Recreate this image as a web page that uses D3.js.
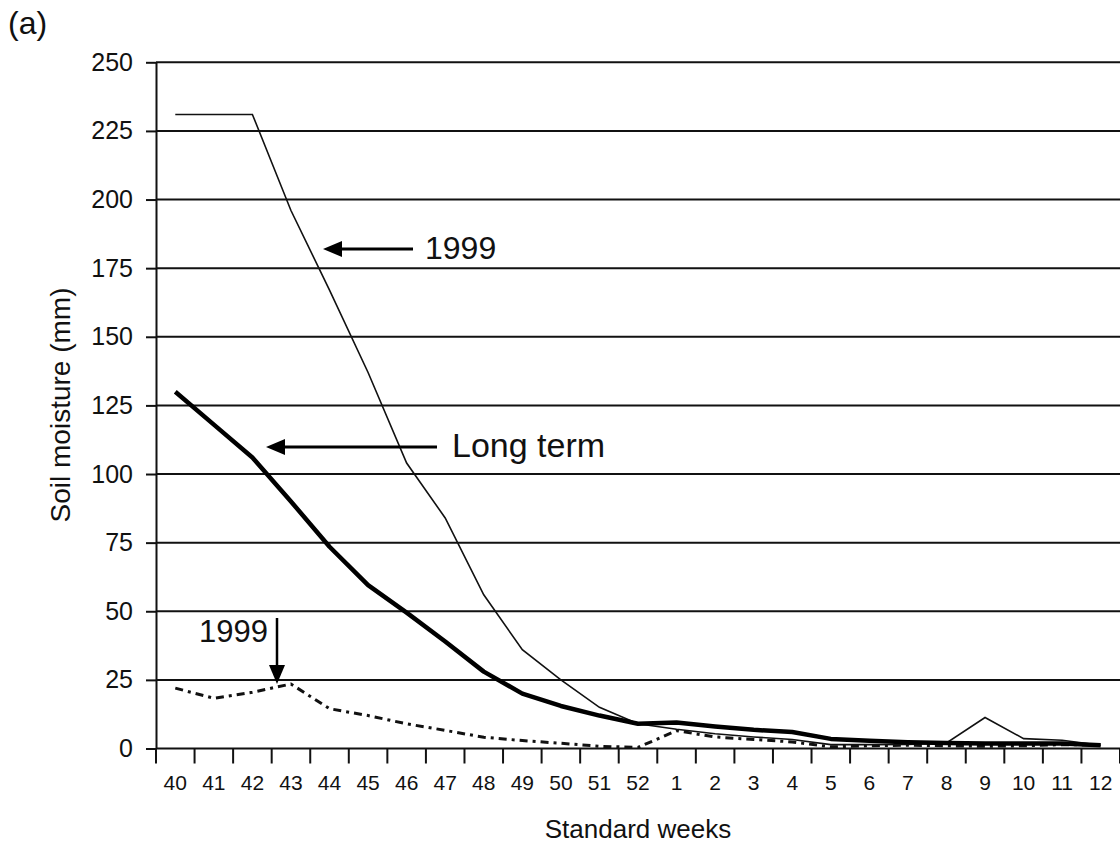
<!DOCTYPE html>
<html>
<head>
<meta charset="utf-8">
<script src="https://cdn.jsdelivr.net/npm/d3@7"></script>
<style>
  body { margin: 0; background: #fff; }
  svg { display: block; font-family: "Liberation Sans", Arial, sans-serif; }
</style>
</head>
<body>
<div id="chart"></div>
<script>
// standard weeks, Oct -> Mar
var weeks = ["40", "41", "42", "43", "44", "45", "46", "47", "48", "49", "50", "51", "52",
  "1", "2", "3", "4", "5", "6", "7", "8", "9", "10", "11", "12"];

// soil moisture (mm)
var longTerm = [130, 118, 106, 90, 73.5, 59.5, 49.5, 39, 28, 20, 15.5, 12, 9,
  9.5, 8, 6.8, 6, 3.5, 2.8, 2.3, 2, 1.8, 1.8, 1.8, 1.2];
var year1999 = [231, 231, 231, 196, 167, 137, 104, 84, 56, 36, 25, 15, 9,
  7, 5.4, 4.2, 3.3, 1.4, 1.4, 1.5, 2, 11.3, 3.6, 3, 1.2];
var year1999b = [22, 18.3, 20.5, 23.5, 14.5, 12, 9, 6.6, 4.1, 2.9, 1.9, 0.8, 0.4,
  6.5, 4.2, 3.3, 2.4, 0.6, 1, 1.2, 1, 0.8, 1, 1.4, 1.2];

var yTicks = [0, 25, 50, 75, 100, 125, 150, 175, 200, 225, 250];

var W = 1120, H = 845;
var plotLeft = 156, plotRight = 1120, plotTop = 62.3, plotBottom = 748.5;

var svg = d3.select("#chart").append("svg")
  .attr("width", W)
  .attr("height", H);

var x = d3.scaleBand().domain(weeks).range([plotLeft, plotRight]);
var y = d3.scaleLinear().domain([0, 250]).range([plotBottom, plotTop]);
var bw = x.bandwidth();

// horizontal grid lines
svg.append("g")
  .selectAll("line")
  .data(yTicks)
  .enter()
  .append("line")
  .attr("x1", plotLeft)
  .attr("x2", plotRight)
  .attr("y1", function(d) { return y(d); })
  .attr("y2", function(d) { return y(d); })
  .attr("stroke", "#111")
  .attr("stroke-width", 2);

// y axis
var yAxis = svg.append("g")
  .attr("transform", "translate(" + plotLeft + ",0)")
  .call(d3.axisLeft(y).tickValues(yTicks).tickSize(10).tickSizeOuter(0).tickPadding(13));
yAxis.select(".domain").attr("stroke", "#111").attr("stroke-width", 2);
yAxis.selectAll(".tick line").attr("stroke", "#111").attr("stroke-width", 2);
yAxis.selectAll("text")
  .attr("font-size", 25)
  .attr("font-family", "Liberation Sans, Arial, sans-serif")
  .attr("fill", "#111");

// x axis: ticks on band edges, labels in the middle
var xAxis = svg.append("g")
  .attr("transform", "translate(0," + plotBottom + ")")
  .call(d3.axisBottom(x).tickSize(0).tickPadding(27));
xAxis.select(".domain").remove();
xAxis.selectAll("text")
  .attr("font-size", 21)
  .attr("font-family", "Liberation Sans, Arial, sans-serif")
  .attr("fill", "#111");

svg.append("g")
  .selectAll("line")
  .data(d3.range(weeks.length + 1))
  .enter()
  .append("line")
  .attr("x1", function(i) { return plotLeft + i * bw; })
  .attr("x2", function(i) { return plotLeft + i * bw; })
  .attr("y1", plotBottom)
  .attr("y2", plotBottom + 15)
  .attr("stroke", "#111")
  .attr("stroke-width", 2);

// series
var line = d3.line()
  .x(function(d, i) { return x(weeks[i]) + bw / 2; })
  .y(function(d) { return y(d); });

svg.append("path")
  .datum(year1999b)
  .attr("d", line)
  .attr("fill", "none")
  .attr("stroke", "#111")
  .attr("stroke-width", 3)
  .attr("stroke-dasharray", "8,5,3,5");

svg.append("path")
  .datum(year1999)
  .attr("d", line)
  .attr("fill", "none")
  .attr("stroke", "#111")
  .attr("stroke-width", 1.6);

svg.append("path")
  .datum(longTerm)
  .attr("d", line)
  .attr("fill", "none")
  .attr("stroke", "#000")
  .attr("stroke-width", 4.5)
  .attr("stroke-linejoin", "round");

// annotations
function arrowLeft(x1, x2, yy) {
  svg.append("line")
    .attr("x1", x1).attr("x2", x2 + 16).attr("y1", yy).attr("y2", yy)
    .attr("stroke", "#000").attr("stroke-width", 3);
  svg.append("path")
    .attr("d", "M" + x2 + "," + yy + "L" + (x2 + 19) + "," + (yy - 8) + "L" + (x2 + 19) + "," + (yy + 8) + "Z")
    .attr("fill", "#000");
}

arrowLeft(413, 323, 249);
svg.append("text")
  .attr("x", 425).attr("y", 259)
  .attr("font-size", 32)
  .attr("fill", "#111")
  .text("1999");

arrowLeft(437, 266, 447);
svg.append("text")
  .attr("x", 452).attr("y", 457)
  .attr("font-size", 34)
  .attr("fill", "#111")
  .text("Long term");

svg.append("line")
  .attr("x1", 277).attr("x2", 277).attr("y1", 618).attr("y2", 668)
  .attr("stroke", "#000").attr("stroke-width", 2.5);
svg.append("path")
  .attr("d", "M277,684L269,665L285,665Z")
  .attr("fill", "#000");
svg.append("text")
  .attr("x", 199).attr("y", 642)
  .attr("font-size", 31)
  .attr("fill", "#111")
  .text("1999");

// titles
svg.append("text")
  .attr("x", 8).attr("y", 34)
  .attr("font-size", 32)
  .attr("fill", "#111")
  .text("(a)");

svg.append("text")
  .attr("transform", "translate(70,405) rotate(-90)")
  .attr("text-anchor", "middle")
  .attr("font-size", 28)
  .attr("fill", "#111")
  .text("Soil moisture (mm)");

svg.append("text")
  .attr("x", 638).attr("y", 838)
  .attr("text-anchor", "middle")
  .attr("font-size", 26)
  .attr("fill", "#111")
  .text("Standard weeks");
</script>
</body>
</html>
